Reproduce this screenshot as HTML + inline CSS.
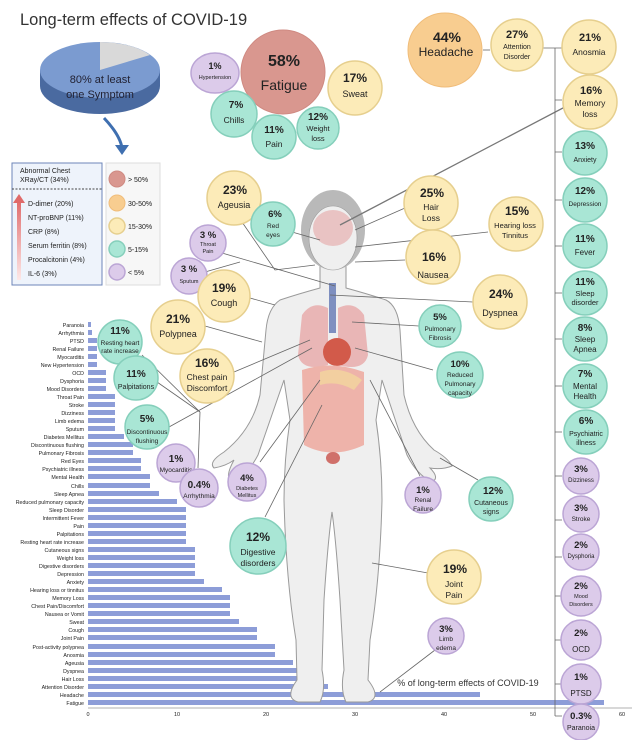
<!DOCTYPE html>
<html><head><meta charset="utf-8"><style>
html,body{margin:0;padding:0;background:#fff}
svg{display:block;font-family:"Liberation Sans",sans-serif}
.y{fill:#fcebb8;stroke:#e6cf8e;stroke-width:1.5}
.t{fill:#a9e6d5;stroke:#85cfbb;stroke-width:1.5}
.p{fill:#dccbea;stroke:#bba5d5;stroke-width:1.5}
.o{fill:#f8cd90;stroke:#f0bd7a;stroke-width:1}
.r{fill:#d9978f;stroke:#cf8a82;stroke-width:1}
text{fill:#222;text-anchor:middle}
.b{font-weight:bold}
.bl text{text-anchor:end;font-size:5.3px;fill:#222}
.ln{stroke:#666;stroke-width:0.8;fill:none}
</style></head><body>
<svg width="643" height="740" viewBox="0 0 643 740">
<text x="20" y="25" style="text-anchor:start;font-size:16.5px;fill:#333">Long-term effects of COVID-19</text>
<!-- pie -->
<ellipse cx="100" cy="86" rx="60" ry="28" fill="#4a6aa0"/>
<rect x="40" y="70" width="120" height="16" fill="#4a6aa0"/>
<ellipse cx="100" cy="70" rx="60" ry="28" fill="#7b9bd0"/>
<path d="M100,70 L100,42 A60,28 0 0,1 150,55 Z" fill="#d9d9d9"/>
<text x="100" y="83" style="font-size:11px;fill:#223">80% at least</text>
<text x="100" y="98" style="font-size:11px;fill:#223">one Symptom</text>
<path d="M104,118 Q120,135 122,148" stroke="#3f6fb0" stroke-width="3" fill="none"/>
<polygon points="115,145 129,145 122,155" fill="#3f6fb0"/>
<!-- boxes -->
<rect x="12" y="163" width="90" height="122" fill="#eef3fb" stroke="#6d86b8" stroke-width="1"/>
<line x1="12" y1="189" x2="102" y2="189" stroke="#444" stroke-dasharray="2,1.5"/>
<text x="20" y="173" style="text-anchor:start;font-size:7px">Abnormal Chest</text>
<text x="20" y="182" style="text-anchor:start;font-size:7px">XRay/CT (34%)</text>
<defs><linearGradient id="ga" x1="0" y1="0" x2="0" y2="1"><stop offset="0" stop-color="#e06a6a"/><stop offset="1" stop-color="#fde8e8"/></linearGradient></defs>
<rect x="17" y="200" width="4" height="80" fill="url(#ga)"/>
<polygon points="13,203 25,203 19,194" fill="#e06a6a"/>
<g style="font-size:7px"><text x="28" y="206" style="text-anchor:start">D-dimer (20%)</text>
<text x="28" y="220" style="text-anchor:start">NT-proBNP (11%)</text>
<text x="28" y="234" style="text-anchor:start">CRP (8%)</text>
<text x="28" y="248" style="text-anchor:start">Serum ferritin (8%)</text>
<text x="28" y="262" style="text-anchor:start">Procalcitonin (4%)</text>
<text x="28" y="276" style="text-anchor:start">IL-6 (3%)</text></g>
<rect x="106" y="163" width="54" height="122" fill="#f7f7f7" stroke="#ddd"/>
<circle cx="117" cy="179" r="8" class="r"/><circle cx="117" cy="203" r="8" class="o"/><circle cx="117" cy="226" r="8" class="y"/><circle cx="117" cy="249" r="8" class="t"/><circle cx="117" cy="272" r="8" class="p"/>
<g style="font-size:7px"><text x="128" y="182" style="text-anchor:start">&gt; 50%</text><text x="128" y="206" style="text-anchor:start">30-50%</text><text x="128" y="229" style="text-anchor:start">15-30%</text><text x="128" y="252" style="text-anchor:start">5-15%</text><text x="128" y="275" style="text-anchor:start">&lt; 5%</text></g>

<!-- bar chart -->
<g fill="#8d9dd8">
<rect x="88" y="322" width="3" height="5"/><rect x="88" y="330" width="4" height="5"/><rect x="88" y="338" width="9" height="5"/><rect x="88" y="346" width="9" height="5"/><rect x="88" y="354" width="9" height="5"/><rect x="88" y="362" width="9" height="5"/><rect x="88" y="370" width="18" height="5"/><rect x="88" y="378" width="18" height="5"/><rect x="88" y="386" width="18" height="5"/><rect x="88" y="394" width="27" height="5"/><rect x="88" y="402" width="27" height="5"/><rect x="88" y="410" width="27" height="5"/><rect x="88" y="418" width="27" height="5"/><rect x="88" y="426" width="27" height="5"/><rect x="88" y="434" width="36" height="5"/><rect x="88" y="442" width="45" height="5"/><rect x="88" y="450" width="45" height="5"/><rect x="88" y="458" width="53" height="5"/><rect x="88" y="466" width="53" height="5"/><rect x="88" y="474" width="62" height="5"/><rect x="88" y="483" width="62" height="5"/><rect x="88" y="491" width="71" height="5"/><rect x="88" y="499" width="89" height="5"/><rect x="88" y="507" width="98" height="5"/><rect x="88" y="515" width="98" height="5"/><rect x="88" y="523" width="98" height="5"/><rect x="88" y="531" width="98" height="5"/><rect x="88" y="539" width="98" height="5"/><rect x="88" y="547" width="107" height="5"/><rect x="88" y="555" width="107" height="5"/><rect x="88" y="563" width="107" height="5"/><rect x="88" y="571" width="107" height="5"/><rect x="88" y="579" width="116" height="5"/><rect x="88" y="587" width="134" height="5"/><rect x="88" y="595" width="142" height="5"/><rect x="88" y="603" width="142" height="5"/><rect x="88" y="611" width="142" height="5"/><rect x="88" y="619" width="151" height="5"/><rect x="88" y="627" width="169" height="5"/><rect x="88" y="635" width="169" height="5"/><rect x="88" y="644" width="187" height="5"/><rect x="88" y="652" width="187" height="5"/><rect x="88" y="660" width="205" height="5"/><rect x="88" y="668" width="214" height="5"/><rect x="88" y="676" width="223" height="5"/><rect x="88" y="684" width="240" height="5"/><rect x="88" y="692" width="392" height="5"/><rect x="88" y="700" width="516" height="5"/>
</g>
<g class="bl">
<text x="84" y="327">Paranoia</text><text x="84" y="335">Arrhythmia</text><text x="84" y="343">PTSD</text><text x="84" y="351">Renal Failure</text><text x="84" y="359">Myocarditis</text><text x="84" y="367">New Hypertension</text><text x="84" y="375">OCD</text><text x="84" y="383">Dysphoria</text><text x="84" y="391">Mood Disorders</text><text x="84" y="399">Throat Pain</text><text x="84" y="407">Stroke</text><text x="84" y="415">Dizziness</text><text x="84" y="423">Limb edema</text><text x="84" y="431">Sputum</text><text x="84" y="439">Diabetes Mellitus</text><text x="84" y="447">Discontinuous flushing</text><text x="84" y="455">Pulmonary Fibrosis</text><text x="84" y="463">Red Eyes</text><text x="84" y="471">Psychiatric illness</text><text x="84" y="479">Mental Health</text><text x="84" y="488">Chills</text><text x="84" y="496">Sleep Apnea</text><text x="84" y="504">Reduced pulmonary capacity</text><text x="84" y="512">Sleep Disorder</text><text x="84" y="520">Intermittent Fever</text><text x="84" y="528">Pain</text><text x="84" y="536">Palpitations</text><text x="84" y="544">Resting heart rate increase</text><text x="84" y="552">Cutaneous signs</text><text x="84" y="560">Weight loss</text><text x="84" y="568">Digestive disorders</text><text x="84" y="576">Depression</text><text x="84" y="584">Anxiety</text><text x="84" y="592">Hearing loss or tinnitus</text><text x="84" y="600">Memory Loss</text><text x="84" y="608">Chest Pain/Discomfort</text><text x="84" y="616">Nausea or Vomit</text><text x="84" y="624">Sweat</text><text x="84" y="632">Cough</text><text x="84" y="640">Joint Pain</text><text x="84" y="649">Post-activity polypnea</text><text x="84" y="657">Anosmia</text><text x="84" y="665">Ageusia</text><text x="84" y="673">Dyspnea</text><text x="84" y="681">Hair Loss</text><text x="84" y="689">Attention Disorder</text><text x="84" y="697">Headache</text><text x="84" y="705">Fatigue</text>
</g>
<line x1="88" y1="708" x2="632" y2="708" stroke="#999" stroke-width="0.7"/>
<g style="font-size:5.5px"><text x="88" y="716">0</text><text x="177" y="716">10</text><text x="266" y="716">20</text><text x="355" y="716">30</text><text x="444" y="716">40</text><text x="533" y="716">50</text><text x="622" y="716">60</text></g>

<!-- body -->
<g transform="translate(2,0)">
<path d="M318,262 L318,288 Q296,294 278,300 Q266,308 264,330 L258,395 Q250,430 222,452 Q206,462 212,468 Q224,466 232,460 Q222,478 230,482 Q245,476 256,455 L282,380 L288,420 Q282,460 282,500 Q284,580 294,640 L295,680 Q282,698 296,702 L318,702 Q324,690 320,670 L322,600 Q326,540 330,512 Q334,540 338,600 L342,670 Q338,690 344,702 L366,702 Q380,698 366,680 L368,640 Q378,580 380,500 Q380,460 374,420 L380,380 L405,455 Q415,475 430,482 Q438,478 428,468 Q440,470 450,466 Q446,458 432,450 Q410,430 402,395 L398,330 Q396,306 384,300 Q366,294 344,288 L344,262 Z" fill="#efefef" stroke="#9a9a9a" stroke-width="1"/>
<ellipse cx="331" cy="230" rx="32" ry="40" fill="#b9b9b9"/>
<ellipse cx="331" cy="238" rx="24" ry="32" fill="#efefef" stroke="#999" stroke-width="0.6"/>
<ellipse cx="331" cy="228" rx="20" ry="18" fill="#e7b8b8" opacity="0.8"/>
<rect x="327" y="283" width="7" height="50" fill="#7e8fc0"/>
<path d="M300,315 Q310,300 326,308 L326,365 Q300,372 296,355 Z" fill="#e7a7a7" opacity="0.8"/>
<path d="M362,315 Q352,300 336,308 L336,365 Q362,372 366,355 Z" fill="#e7a7a7" opacity="0.8"/>
<ellipse cx="335" cy="352" rx="14" ry="14" fill="#d25a4a"/>
<path d="M300,370 Q330,360 362,372 L362,445 Q330,460 302,445 Z" fill="#eeb3aa"/>
<path d="M318,372 Q340,365 360,380 L352,390 Q335,380 318,385 Z" fill="#f2cfa0"/>
<ellipse cx="331" cy="458" rx="7" ry="6" fill="#d0706a"/>
</g>

<!-- connector lines -->
<g class="ln">
<line x1="340" y1="225" x2="582" y2="98" stroke="#777" stroke-width="1.3"/>
<line x1="555" y1="48" x2="555" y2="716"/>
<line x1="543" y1="48" x2="562" y2="48"/>
<line x1="483" y1="50" x2="490" y2="50"/>
<path d="M555,100 L562,100 M555,152 L562,152 M555,200 L562,200 M555,246 L562,246 M555,293 L562,293 M555,339 L562,339 M555,386 L562,386 M555,432 L562,432 M555,476 L562,476 M555,520 L562,520 M555,557 L562,557 M555,596 L562,596 M555,640 L562,640 M555,684 L562,684 M555,716 L562,716"/>
<path d="M242,222 L275,270 L315,265"/><line x1="285" y1="230" x2="320" y2="240"/>
<line x1="222" y1="253" x2="335" y2="286"/><line x1="205" y1="272" x2="240" y2="262"/>
<line x1="250" y1="298" x2="275" y2="305 "/><line x1="205" y1="326" x2="262" y2="342"/>
<line x1="234" y1="372" x2="310" y2="340"/>
<line x1="405" y1="208" x2="355" y2="230"/><line x1="488" y1="232" x2="355" y2="247"/>
<line x1="405" y1="260" x2="355" y2="262"/><line x1="473" y1="302" x2="330" y2="295"/>
<line x1="419" y1="326" x2="352" y2="322"/><line x1="433" y1="370" x2="355" y2="348"/>
<line x1="142" y1="355" x2="200" y2="412"/><line x1="157" y1="382" x2="200" y2="412"/>
<line x1="169" y1="427" x2="312" y2="348"/><line x1="200" y1="412" x2="198" y2="468"/>
<line x1="260" y1="462" x2="320" y2="380"/><line x1="265" y1="517" x2="322" y2="405"/>
<line x1="420" y1="476" x2="370" y2="380"/><line x1="478" y1="480" x2="440" y2="458"/>
<line x1="428" y1="573" x2="372" y2="563"/><line x1="435" y1="650" x2="380" y2="692"/>
</g>

<!-- bubbles -->
<circle cx="283" cy="72" r="42" class="r"/><text x="284" y="66" class="b" style="font-size:16px">58%</text><text x="284" y="90" style="font-size:14px">Fatigue</text>
<ellipse cx="215" cy="73" rx="24" ry="20" class="p"/><text x="215" y="69" class="b" style="font-size:9px">1%</text><text x="215" y="79" style="font-size:5.5px">Hypertension</text>
<circle cx="355" cy="88" r="27" class="y"/><text x="355" y="82" class="b" style="font-size:12px">17%</text><text x="355" y="97" style="font-size:9px">Sweat</text>
<circle cx="234" cy="114" r="23" class="t"/><text x="236" y="108" class="b" style="font-size:10px">7%</text><text x="234" y="123" style="font-size:8.5px">Chills</text>
<circle cx="274" cy="137" r="22" class="t"/><text x="274" y="133" class="b" style="font-size:10px">11%</text><text x="274" y="147" style="font-size:8.5px">Pain</text>
<circle cx="318" cy="128" r="21" class="t"/><text x="318" y="120" class="b" style="font-size:10px">12%</text><text x="318" y="131" style="font-size:7.5px">Weight</text><text x="318" y="141" style="font-size:7.5px">loss</text>
<circle cx="445" cy="50" r="37" class="o"/><text x="447" y="42" class="b" style="font-size:14px">44%</text><text x="446" y="56" style="font-size:12px">Headache</text>
<circle cx="517" cy="45" r="26" class="y"/><text x="517" y="38" class="b" style="font-size:11px">27%</text><text x="517" y="49" style="font-size:7px">Attention</text><text x="517" y="59" style="font-size:7px">Disorder</text>
<circle cx="589" cy="47" r="27" class="y"/><text x="590" y="41" class="b" style="font-size:11px">21%</text><text x="589" y="55" style="font-size:8.5px">Anosmia</text>
<circle cx="590" cy="102" r="27" class="y"/><text x="591" y="94" class="b" style="font-size:11px">16%</text><text x="590" y="106" style="font-size:8.5px">Memory</text><text x="590" y="117" style="font-size:8.5px">loss</text>
<circle cx="585" cy="153" r="22" class="t"/><text x="585" y="149" class="b" style="font-size:10px">13%</text><text x="585" y="162" style="font-size:7px">Anxiety</text>
<circle cx="585" cy="200" r="22" class="t"/><text x="585" y="194" class="b" style="font-size:10px">12%</text><text x="585" y="206" style="font-size:6.5px">Depression</text>
<circle cx="585" cy="246" r="22" class="t"/><text x="585" y="242" class="b" style="font-size:10px">11%</text><text x="585" y="255" style="font-size:8px">Fever</text>
<circle cx="585" cy="293" r="22" class="t"/><text x="585" y="285" class="b" style="font-size:10px">11%</text><text x="585" y="296" style="font-size:7.5px">Sleep</text><text x="585" y="305" style="font-size:7.5px">disorder</text>
<circle cx="585" cy="339" r="22" class="t"/><text x="585" y="331" class="b" style="font-size:10px">8%</text><text x="585" y="342" style="font-size:8px">Sleep</text><text x="585" y="352" style="font-size:8px">Apnea</text>
<circle cx="585" cy="386" r="22" class="t"/><text x="585" y="377" class="b" style="font-size:10px">7%</text><text x="585" y="389" style="font-size:8px">Mental</text><text x="585" y="399" style="font-size:8px">Health</text>
<circle cx="586" cy="432" r="22" class="t"/><text x="586" y="424" class="b" style="font-size:10px">6%</text><text x="586" y="436" style="font-size:7px">Psychiatric</text><text x="586" y="445" style="font-size:7px">illness</text>
<circle cx="581" cy="476" r="18" class="p"/><text x="581" y="472" class="b" style="font-size:9.5px">3%</text><text x="581" y="482" style="font-size:6px">Dizziness</text>
<circle cx="581" cy="514" r="18" class="p"/><text x="581" y="511" class="b" style="font-size:9.5px">3%</text><text x="581" y="521" style="font-size:6.5px">Stroke</text>
<circle cx="581" cy="552" r="18" class="p"/><text x="581" y="548" class="b" style="font-size:9.5px">2%</text><text x="581" y="558" style="font-size:6px">Dysphoria</text>
<circle cx="581" cy="596" r="20" class="p"/><text x="581" y="589" class="b" style="font-size:9.5px">2%</text><text x="581" y="598" style="font-size:5.5px">Mood</text><text x="581" y="606" style="font-size:5.5px">Disorders</text>
<circle cx="581" cy="640" r="20" class="p"/><text x="581" y="636" class="b" style="font-size:9.5px">2%</text><text x="581" y="652" style="font-size:8px">OCD</text>
<circle cx="581" cy="684" r="20" class="p"/><text x="581" y="680" class="b" style="font-size:9.5px">1%</text><text x="581" y="696" style="font-size:8px">PTSD</text>
<circle cx="581" cy="722" r="18" class="p"/><text x="581" y="719" class="b" style="font-size:9.5px">0.3%</text><text x="581" y="730" style="font-size:7px">Paranoia</text>

<circle cx="234" cy="198" r="27" class="y"/><text x="235" y="194" class="b" style="font-size:12px">23%</text><text x="234" y="208" style="font-size:9px">Ageusia</text>
<circle cx="273" cy="224" r="22" class="t"/><text x="275" y="217" class="b" style="font-size:9.5px">6%</text><text x="273" y="228" style="font-size:6.5px">Red</text><text x="273" y="237" style="font-size:6.5px">eyes</text>
<circle cx="208" cy="243" r="18" class="p"/><text x="208" y="238" class="b" style="font-size:9.5px">3 %</text><text x="208" y="246" style="font-size:5.5px">Throat</text><text x="208" y="253" style="font-size:5.5px">Pain</text>
<circle cx="189" cy="276" r="18" class="p"/><text x="189" y="272" class="b" style="font-size:9.5px">3 %</text><text x="189" y="283" style="font-size:5.5px">Sputum</text>
<circle cx="224" cy="296" r="26" class="y"/><text x="224" y="292" class="b" style="font-size:12px">19%</text><text x="224" y="306" style="font-size:9px">Cough</text>
<circle cx="178" cy="327" r="27" class="y"/><text x="178" y="323" class="b" style="font-size:12px">21%</text><text x="178" y="337" style="font-size:9px">Polypnea</text>
<circle cx="207" cy="376" r="27" class="y"/><text x="207" y="367" class="b" style="font-size:12px">16%</text><text x="207" y="380" style="font-size:8.5px">Chest pain</text><text x="207" y="391" style="font-size:8.5px">Discomfort</text>
<circle cx="120" cy="342" r="22" class="t"/><text x="120" y="334" class="b" style="font-size:10px">11%</text><text x="120" y="345" style="font-size:6.5px">Resting heart</text><text x="120" y="353" style="font-size:6.5px">rate increase</text>
<circle cx="136" cy="378" r="22" class="t"/><text x="136" y="377" class="b" style="font-size:10px">11%</text><text x="136" y="389" style="font-size:7px">Palpitations</text>
<circle cx="147" cy="427" r="22" class="t"/><text x="147" y="422" class="b" style="font-size:10px">5%</text><text x="147" y="434" style="font-size:6.5px">Discontinuous</text><text x="147" y="443" style="font-size:6.5px">flushing</text>
<circle cx="176" cy="463" r="19" class="p"/><text x="176" y="462" class="b" style="font-size:10px">1%</text><text x="176" y="472" style="font-size:6.5px">Myocarditis</text>
<circle cx="199" cy="488" r="19" class="p"/><text x="199" y="488" class="b" style="font-size:10px">0.4%</text><text x="199" y="498" style="font-size:6.5px">Arrhythmia</text>
<circle cx="247" cy="482" r="19" class="p"/><text x="247" y="481" class="b" style="font-size:9.5px">4%</text><text x="247" y="490" style="font-size:5.5px">Diabetes</text><text x="247" y="497" style="font-size:5.5px">Mellitus</text>
<circle cx="258" cy="546" r="28" class="t"/><text x="258" y="541" class="b" style="font-size:12px">12%</text><text x="258" y="555" style="font-size:8.5px">Digestive</text><text x="258" y="566" style="font-size:8.5px">disorders</text>

<circle cx="431" cy="203" r="27" class="y"/><text x="432" y="197" class="b" style="font-size:12px">25%</text><text x="431" y="210" style="font-size:8.5px">Hair</text><text x="431" y="221" style="font-size:8.5px">Loss</text>
<circle cx="516" cy="224" r="27" class="y"/><text x="517" y="215" class="b" style="font-size:12px">15%</text><text x="515" y="228" style="font-size:7.5px">Hearing loss</text><text x="515" y="238" style="font-size:7.5px">Tinnitus</text>
<circle cx="433" cy="257" r="27" class="y"/><text x="434" y="261" class="b" style="font-size:12px">16%</text><text x="433" y="278" style="font-size:9px">Nausea</text>
<circle cx="500" cy="302" r="27" class="y"/><text x="501" y="298" class="b" style="font-size:12px">24%</text><text x="500" y="316" style="font-size:9px">Dyspnea</text>
<circle cx="440" cy="326" r="21" class="t"/><text x="440" y="320" class="b" style="font-size:9.5px">5%</text><text x="440" y="331" style="font-size:6.5px">Pulmonary</text><text x="440" y="340" style="font-size:6.5px">Fibrosis</text>
<circle cx="460" cy="375" r="23" class="t"/><text x="460" y="367" class="b" style="font-size:9.5px">10%</text><text x="460" y="377" style="font-size:6.5px">Reduced</text><text x="460" y="386" style="font-size:6.5px">Pulmonary</text><text x="460" y="395" style="font-size:6.5px">capacity</text>
<circle cx="423" cy="495" r="18" class="p"/><text x="423" y="493" class="b" style="font-size:9.5px">1%</text><text x="423" y="502" style="font-size:6.5px">Renal</text><text x="423" y="511" style="font-size:6.5px">Failure</text>
<circle cx="491" cy="499" r="22" class="t"/><text x="493" y="494" class="b" style="font-size:10px">12%</text><text x="491" y="505" style="font-size:7px">Cutaneous</text><text x="491" y="514" style="font-size:7px">signs</text>
<circle cx="454" cy="577" r="27" class="y"/><text x="455" y="573" class="b" style="font-size:12px">19%</text><text x="454" y="587" style="font-size:8.5px">Joint</text><text x="454" y="598" style="font-size:8.5px">Pain</text>
<circle cx="446" cy="636" r="18" class="p"/><text x="446" y="632" class="b" style="font-size:9.5px">3%</text><text x="446" y="641" style="font-size:6.5px">Limb</text><text x="446" y="650" style="font-size:6.5px">edema</text>
<text x="468" y="686" style="font-size:9px;fill:#333">% of long-term effects of COVID-19</text>
</svg>
</body></html>
